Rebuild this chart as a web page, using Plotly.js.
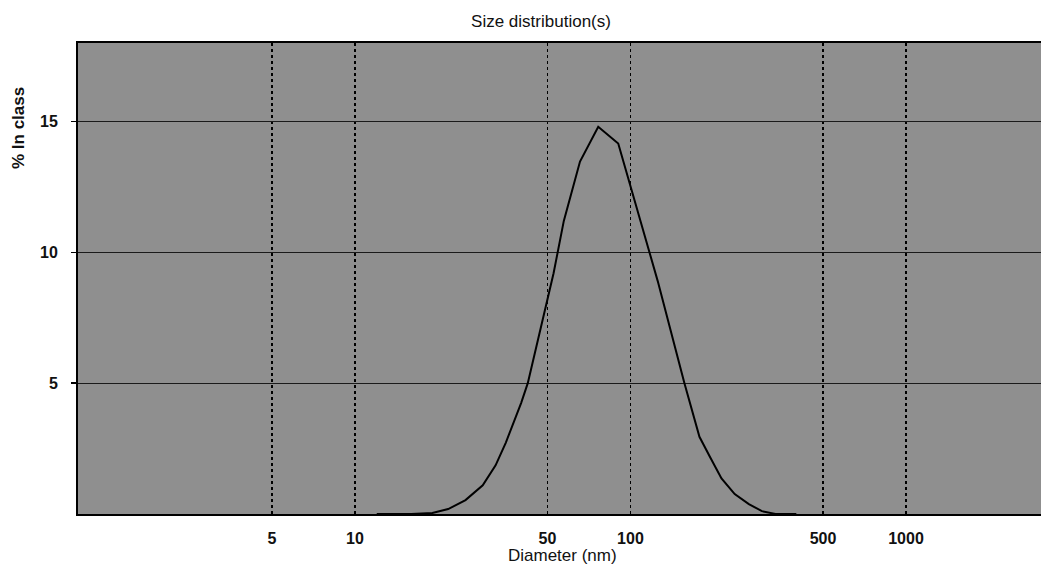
<!DOCTYPE html>
<html>
<head>
<meta charset="utf-8">
<script src="https://cdn.plot.ly/plotly-3.0.1.min.js"></script>
<style>
  html, body { margin: 0; padding: 0; background: #ffffff; }
  #chart { width: 1041px; height: 564px; }
</style>
</head>
<body>
<div id="chart"></div>
<script>
// Particle diameters (nm) and the share of particles at each diameter (%)
const diameterNm = [12, 16, 19.1, 21.8, 25.2, 29.1, 32.4, 35.3, 40.1, 42.4, 52.6, 57.3,
                    65.6, 76.4, 90.3, 102.6, 111.6, 125.6, 157, 166, 178, 194, 214, 239,
                    269, 300, 336, 400];
const percentInClass = [0, 0, 0.04, 0.19, 0.53, 1.10, 1.86, 2.73, 4.24, 5.0, 9.2, 11.2,
                        13.47, 14.8, 14.16, 12.1, 10.8, 8.9, 5.0, 4.09, 2.95, 2.2, 1.36, 0.76,
                        0.38, 0.11, 0, 0];

// Axis ticks
const xTickValues = [5, 10, 50, 100, 500, 1000];
const xTickLabels = ['5', '10', '50', '100', '500', '1000'];
const yTickValues = [5, 10, 15];
const yTickLabels = ['5', '10', '15'];

const FONT = 'Liberation Sans, Arial, Helvetica, sans-serif';

const trace = {
  x: diameterNm,
  y: percentInClass,
  type: 'scatter',
  mode: 'lines',
  line: { color: '#000000', width: 2, shape: 'linear' },
  hoverinfo: 'x+y'
};

const layout = {
  width: 1041,
  height: 564,
  margin: { l: 78, r: 0, t: 43, b: 50 },
  paper_bgcolor: '#ffffff',
  plot_bgcolor: '#8f8f8f',
  showlegend: false,
  title: {
    text: 'Size distribution(s)',
    x: 541 / 1041, xanchor: 'center',
    y: 1 - 21 / 564, yanchor: 'middle',
    font: { family: FONT, size: 17, color: '#111111' }
  },
  xaxis: {
    type: 'log',
    range: [-0.005, 3.49],
    tickvals: xTickValues,
    ticktext: xTickLabels,
    ticks: '',
    ticklabelstandoff: 9,
    tickfont: { family: FONT, size: 16, color: '#111111', weight: 'bold' },
    showgrid: true,
    gridcolor: '#000000',
    gridwidth: 1.5,
    griddash: 'dot',
    showline: true,
    linecolor: '#000000',
    linewidth: 2,
    mirror: true,
    zeroline: false
  },
  yaxis: {
    range: [0, 18],
    tickvals: yTickValues,
    ticktext: yTickLabels,
    ticks: 'outside',
    ticklen: 5,
    tickwidth: 1.5,
    tickcolor: '#000000',
    ticklabelstandoff: 10,
    tickfont: { family: FONT, size: 16, color: '#111111', weight: 'bold' },
    showgrid: true,
    gridcolor: '#1a1a1a',
    gridwidth: 1.2,
    showline: true,
    linecolor: '#000000',
    linewidth: 2,
    mirror: true,
    zeroline: false
  },
  annotations: [
    {
      text: 'Diameter (nm)',
      xref: 'paper', yref: 'paper',
      x: (562 - 78) / 963, y: -(555 - 514) / 471,
      xanchor: 'center', yanchor: 'middle',
      showarrow: false,
      font: { family: FONT, size: 17, color: '#111111' }
    },
    {
      text: '% In class',
      xref: 'paper', yref: 'paper',
      x: (19 - 78) / 963, y: (514 - 128) / 471,
      xanchor: 'center', yanchor: 'middle',
      textangle: -90,
      showarrow: false,
      font: { family: FONT, size: 17, color: '#111111', weight: 'bold' }
    }
  ]
};

Plotly.newPlot('chart', [trace], layout, { displayModeBar: false, staticPlot: true });
</script>
</body>
</html>
